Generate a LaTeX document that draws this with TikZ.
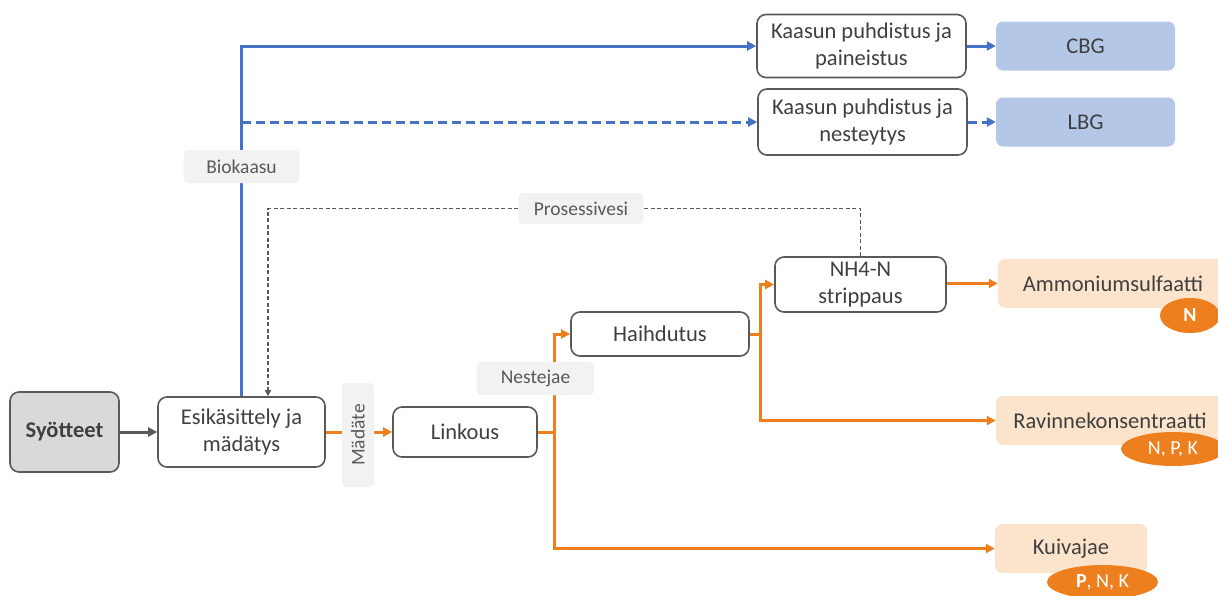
\documentclass[tikz,border=0pt]{standalone}
\usepackage{fontspec}
\setmainfont{Carlito}
\usetikzlibrary{arrows.meta,shapes.geometric}
\definecolor{kaasusin}{HTML}{4472C4}
\definecolor{jaeoranssi}{HTML}{EE7F1F}
\definecolor{persikka}{HTML}{FCE4CC}
\definecolor{vaaleasin}{HTML}{B4C7E7}
\definecolor{reuna}{HTML}{595959}
\definecolor{teksti}{HTML}{404040}
\definecolor{tausta}{HTML}{F2F2F2}
\tikzset{
  prosessi/.style={draw=reuna, line width=1.6pt, rounded corners=9pt, fill=white,
    text=teksti, align=center, inner sep=0pt, font=\fontsize{22.5}{27}\selectfont},
  tuote/.style={rounded corners=7pt, text=teksti, inner sep=0pt,
    font=\fontsize{22.5}{27}\selectfont},
  virta/.style={fill=tausta, rounded corners=4pt, text=reuna, inner sep=0pt,
    font=\fontsize{19.5}{23}\selectfont},
  ravinne/.style={ellipse, fill=jaeoranssi, text=white, inner sep=0pt,
    font=\fontsize{20}{24}\selectfont},
  sininen/.style={draw=kaasusin, line width=3pt},
  oranssi/.style={draw=jaeoranssi, line width=3pt},
  karki/.style={-{Triangle[length=9pt,width=9pt]}},
  paluu/.style={draw=reuna, line width=1.5pt, dash pattern=on 4pt off 2.5pt,
    -{Triangle[length=6pt,width=6pt]}},
}
\begin{document}
\begin{tikzpicture}[x=1pt,y=-1pt]
    \useasboundingbox (0,0) rectangle (1218,595);
    \clip (0,0) rectangle (1218,595);

    \node[prosessi, fill=black!15, font=\fontsize{22.5}{27}\selectfont\bfseries,
        minimum width=109pt, minimum height=80pt] (syot) at (64.5,432) {Syötteet};
    \node[prosessi, minimum width=167pt, minimum height=70pt] (esik) at (241.5,432) {Esikäsittely ja\\mädätys};
    \node[prosessi, minimum width=144pt, minimum height=50pt] (linkous) at (465,432) {Linkous};
    \node[prosessi, minimum width=178pt, minimum height=44pt] (haihd) at (660,334) {Haihdutus};
    \node[prosessi, minimum width=171pt, minimum height=55pt] (nh4) at (860.5,284.5) {NH4-N\\strippaus};
    \node[prosessi, minimum width=209pt, minimum height=63pt] (pain) at (861.5,46) {Kaasun puhdistus ja\\paineistus};
    \node[prosessi, minimum width=209pt, minimum height=66pt] (nest) at (862.5,122) {Kaasun puhdistus ja\\nesteytys};

    \node[tuote, fill=vaaleasin, minimum width=179pt, minimum height=49pt] (cbg) at (1085.5,46) {CBG};
    \node[tuote, fill=vaaleasin, minimum width=179pt, minimum height=49pt] (lbg) at (1085.5,122) {LBG};
    \node[tuote, fill=persikka, minimum width=230pt, minimum height=49pt] (amm) at (1113,283.5) {Ammoniumsulfaatti};
    \node[tuote, fill=persikka, minimum width=228pt, minimum height=49pt] (rav) at (1110,420.5) {Ravinnekonsentraatti};
    \node[tuote, fill=persikka, minimum width=152pt, minimum height=49pt] (kuiv) at (1071,548.5) {Kuivajae};

    \node[ravinne, minimum width=60pt, minimum height=35pt] (typpi) at (1190,315.5) {\bfseries N};
    \node[ravinne, minimum width=104pt, minimum height=34pt] (npk) at (1173,449) {N, P, K};
    \node[ravinne, minimum width=111pt, minimum height=34pt] (pnk) at (1102.5,582) {\bfseries P\mdseries, N, K};

    \draw[draw=reuna, line width=3pt, karki] (syot) -- (esik);

    \draw[sininen, karki] (esik.north) |- (pain.west);
    \draw[sininen, karki, dash pattern=on 9pt off 5pt] (esik.north |- nest.west) -- (nest.west);
    \draw[sininen, karki] (pain.east) -- (cbg.west);
    \draw[sininen, karki, dash pattern=on 9pt off 5pt] (nest.east) -- (lbg.west);

    \coordinate (kulma) at (268,208.5);
    \draw[paluu] (nh4.north) |- (kulma) -- (kulma |- esik.north);

    \draw[oranssi, karki] (esik) -- (linkous);
    \draw[oranssi] (linkous.east) -- ++(17,0) coordinate (jako1);
    \draw[oranssi, karki] (jako1) |- (haihd.west);
    \draw[oranssi, karki] (jako1) |- (kuiv.west);
    \draw[oranssi] (haihd.east) -- ++(11,0) coordinate (jako2);
    \draw[oranssi, karki] (jako2) |- (nh4.west);
    \draw[oranssi, karki] (jako2) |- (rav.west);
    \draw[oranssi, karki] (nh4.east |- amm.west) -- (amm.west);

    \node[virta, minimum width=116pt, minimum height=33pt] (bio) at (241.5,166.5) {Biokaasu};
    \node[virta, minimum width=125pt, minimum height=31pt] (pros) at (581,208.5) {Prosessivesi};
    \node[virta, rotate=90, minimum width=104pt, minimum height=32pt] (madate) at (358,435) {Mädäte};
    \node[virta, minimum width=117pt, minimum height=33pt] (neste) at (535.5,378.5) {Nestejae};
\end{tikzpicture}
\end{document}
